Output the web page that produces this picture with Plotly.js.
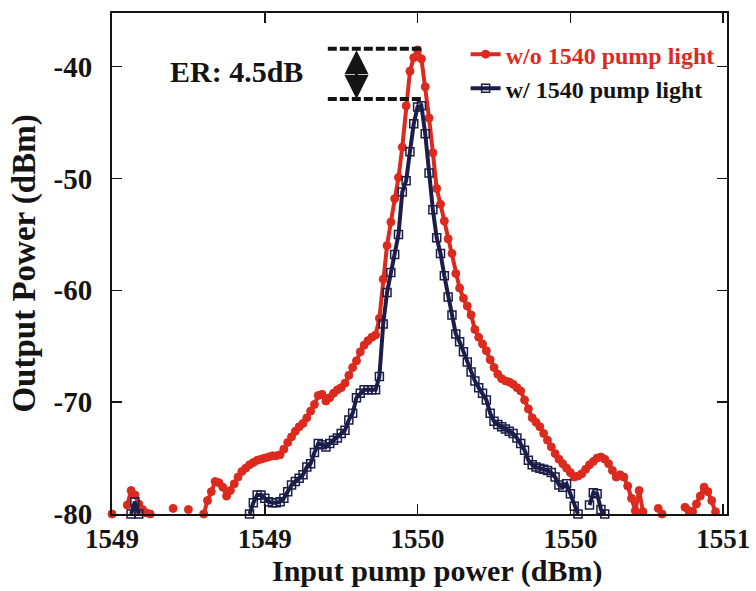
<!DOCTYPE html>
<html>
<head>
<meta charset="utf-8">
<script src="https://cdn.plot.ly/plotly-3.0.1.min.js"></script>
<style>html,body{margin:0;padding:0;background:#fff;}#chart{width:756px;height:591px;}</style>
</head>
<body>
<div id="chart"></div>
<script>
// Wavelength grid (nm)
const wavelength = [
1549.00,1549.01,1549.02,1549.03,1549.04,1549.05,1549.06,1549.07,1549.08,1549.09,
1549.10,1549.11,1549.12,1549.13,1549.14,1549.15,1549.16,1549.17,1549.18,1549.19,
1549.20,1549.21,1549.22,1549.23,1549.24,1549.25,1549.26,1549.27,1549.28,1549.29,
1549.30,1549.31,1549.32,1549.33,1549.34,1549.35,1549.36,1549.37,1549.38,1549.39,
1549.40,1549.41,1549.42,1549.43,1549.44,1549.45,1549.46,1549.47,1549.48,1549.49,
1549.50,1549.51,1549.52,1549.53,1549.54,1549.55,1549.56,1549.57,1549.58,1549.59,
1549.60,1549.61,1549.62,1549.63,1549.64,1549.65,1549.66,1549.67,1549.68,1549.69,
1549.70,1549.71,1549.72,1549.73,1549.74,1549.75,1549.76,1549.77,1549.78,1549.79,
1549.80,1549.81,1549.82,1549.83,1549.84,1549.85,1549.86,1549.87,1549.88,1549.89,
1549.90,1549.91,1549.92,1549.93,1549.94,1549.95,1549.96,1549.97,1549.98,1549.99,
1550.00,1550.01,1550.02,1550.03,1550.04,1550.05,1550.06,1550.07,1550.08,1550.09,
1550.10,1550.11,1550.12,1550.13,1550.14,1550.15,1550.16,1550.17,1550.18,1550.19,
1550.20,1550.21,1550.22,1550.23,1550.24,1550.25,1550.26,1550.27,1550.28,1550.29,
1550.30,1550.31,1550.32,1550.33,1550.34,1550.35,1550.36,1550.37,1550.38,1550.39,
1550.40,1550.41,1550.42,1550.43,1550.44,1550.45,1550.46,1550.47,1550.48,1550.49,
1550.50,1550.51,1550.52,1550.53,1550.54,1550.55,1550.56,1550.57,1550.58,1550.59,
1550.60];

// Output power without 1540 pump light (dBm); null = below -80 dBm (off scale)
const powerNoPump = [
-80,null,null,null,-79.2,-77.9,-78.3,-79.1,-79.6,-79.9,
-80,null,null,null,null,null,-79.5,null,null,null,
-79.6,null,null,null,-80,-78.8,-78.0,-77.1,-77.2,-77.6,
-78.4,-77.9,-77.3,-76.7,-76.2,-75.9,-75.6,-75.4,-75.2,-75.1,
-75.0,-74.9,-74.8,-74.8,-74.7,-74.2,-73.6,-73.1,-72.6,-72.2,
-71.9,-71.4,-70.8,-70.2,-69.4,-69.3,-69.9,-69.6,-69.2,-68.9,
-68.7,-68.3,-67.6,-66.9,-66.3,-65.5,-64.9,-64.5,-64.2,-64.0,
-62.5,-59.0,-56.0,-53.9,-51.8,-49.9,-47.2,-43.5,-40.4,-39.2,
-38.5,-39.3,-41.8,-44.6,-47.7,-50.9,-52.3,-53.8,-55.4,-56.7,
-58.5,-59.8,-60.7,-61.4,-62.2,-63.5,-64.2,-64.8,-65.4,-66.2,
-66.9,-67.5,-67.9,-68.1,-68.2,-68.4,-68.7,-69.0,-69.8,-70.6,
-71.4,-71.8,-72.2,-72.8,-73.4,-74.0,-74.6,-75.1,-75.5,-75.9,
-76.3,-76.7,-76.6,-76.4,-76.0,-75.6,-75.3,-75.0,-74.9,-75.1,
-75.5,-76.1,-76.7,-76.5,-76.7,-77.5,-78.6,-79.7,-77.9,-79.8,
null,null,null,-79.5,-80,null,null,null,null,null,
-79.4,-79.7,-79.8,-79.1,-78.4,-77.6,-78.0,-78.8,-79.8,null,
null];

// Output power with 1540 pump light (dBm); null = below -80 dBm (off scale)
const powerWithPump = [
null,null,null,null,null,-80,-78.9,-80,null,null,
null,null,null,null,null,null,null,null,null,null,
null,null,null,null,null,null,null,null,null,null,
null,null,null,null,null,null,-80,-79.0,-78.3,-78.3,
-78.6,-78.9,-79.0,-79.0,-78.9,-78.6,-78.0,-77.4,-77.1,-76.8,
-76.5,-75.8,-75.5,-74.5,-73.7,-73.8,-74.0,-73.7,-73.4,-73.2,
-72.8,-72.5,-71.6,-71.0,-69.6,-69.2,-68.9,-68.9,-68.9,-68.9,
-67.7,-63.0,-60.2,-58.4,-56.8,-55.0,-51.2,-50.2,-47.6,-45.1,
-43.6,-43.5,-46.0,-49.5,-52.8,-55.3,-56.7,-58.7,-60.6,-62.2,
-63.9,-64.6,-65.5,-66.4,-67.3,-68.1,-68.7,-69.2,-69.8,-71.0,
-71.7,-72.0,-72.2,-72.4,-72.6,-72.8,-73.2,-73.7,-74.3,-75.2,
-75.6,-75.8,-75.9,-76.0,-76.1,-76.3,-76.7,-77.4,-77.6,-77.3,
-78.2,-79.3,-80,null,null,-79.2,-78.1,-78.2,-79.6,-80,
null,null,null,null,null,null,null,null,null,null,
null,null,null,null,null,null,null,null,null,null,
null,null,null,null,null,null,null,null,null,null,
null];

const seriesNames = ['w/o 1540 pump light', 'w/ 1540 pump light'];
const xTickVals = [1549.0, 1549.4, 1549.8, 1550.2, 1550.6];
const xTickText = ['1549', '1549', '1550', '1550', '1551'];
const yTickVals = [-80, -70, -60, -50, -40];
const yTickText = ['-80', '-70', '-60', '-50', '-40'];
const xTitle = 'Input pump power (dBm)';
const yTitle = 'Output Power (dBm)';
const peakNoPump = -38.4;
const peakWithPump = -42.9;
const erText = 'ER: 4.5dB';

const RED = '#dc2a1f';
const NAVY = '#1c1d48';
const INK = '#141414';
const FONT = '"Liberation Serif", "Times New Roman", serif';

const traces = [
  {
    x: wavelength, y: powerNoPump, name: '<span style="color:' + RED + '">' + seriesNames[0] + '</span>',
    type: 'scatter', mode: 'lines+markers', cliponaxis: false, connectgaps: false,
    line: {color: RED, width: 4},
    marker: {symbol: 'circle', size: 8, color: RED, line: {color: RED, width: 1}}
  },
  {
    x: wavelength, y: powerWithPump, name: seriesNames[1],
    type: 'scatter', mode: 'lines+markers', cliponaxis: false, connectgaps: false,
    line: {color: NAVY, width: 4},
    marker: {symbol: 'square-open', size: 8, color: NAVY, line: {color: NAVY, width: 1.5}}
  }
];

const layout = {
  width: 756, height: 591,
  margin: {l: 112, r: 29, t: 13, b: 77},
  paper_bgcolor: '#ffffff', plot_bgcolor: '#ffffff',
  font: {family: FONT, size: 28, color: INK, weight: 'bold'},
  showlegend: true,
  legend: {
    x: 0.575, y: 0.962, xanchor: 'left', yanchor: 'top',
    bgcolor: 'rgba(0,0,0,0)', borderwidth: 0,
    font: {family: FONT, size: 24, color: INK, weight: 'bold'},
    itemwidth: 30, tracegroupgap: 0
  },
  xaxis: {
    range: [1549.0, 1550.61],
    tickmode: 'array', tickvals: xTickVals, ticktext: xTickText,
    ticks: 'inside', ticklen: 10, tickwidth: 1.5, tickcolor: INK,
    showline: true, linecolor: INK, linewidth: 2, mirror: 'ticks',
    showgrid: false, zeroline: false,
    ticklabelstandoff: 0,
    tickfont: {family: FONT, size: 27, color: INK, weight: 'bold'}
  },
  yaxis: {
    range: [-80, -35.2],
    tickmode: 'array', tickvals: yTickVals, ticktext: yTickText,
    ticks: 'inside', ticklen: 10, tickwidth: 1.5, tickcolor: INK,
    showline: true, linecolor: INK, linewidth: 2, mirror: 'ticks',
    showgrid: false, zeroline: false,
    ticklabelstandoff: 12,
    tickfont: {family: FONT, size: 29, color: INK, weight: 'bold'}
  },
  shapes: [
    {type: 'line', xref: 'x', yref: 'y', x0: 1549.565, x1: 1549.81, y0: peakNoPump, y1: peakNoPump,
     line: {color: INK, width: 4, dash: '9px,3px'}},
    {type: 'line', xref: 'x', yref: 'y', x0: 1549.565, x1: 1549.81, y0: peakWithPump, y1: peakWithPump,
     line: {color: INK, width: 4, dash: '9px,3px'}}
  ],
  annotations: [
    {x: 1549.64, y: peakWithPump, xref: 'x', yref: 'y', ax: 1549.64, ay: peakNoPump, axref: 'x', ayref: 'y',
     text: '', showarrow: true, arrowhead: 2, arrowside: 'end+start', arrowsize: 1.6, arrowwidth: 3, arrowcolor: INK},
    {x: 1549.327, y: -40.4, xref: 'x', yref: 'y', text: erText, showarrow: false,
     font: {family: FONT, size: 30, color: INK, weight: 'bold'}},
    {x: 0.528, y: -0.114, xref: 'paper', yref: 'paper', xanchor: 'center', yanchor: 'middle', borderpad: 0,
     text: xTitle, showarrow: false, font: {family: FONT, size: 30, color: INK, weight: 'bold'}},
    {x: -0.143, y: 0.5, xref: 'paper', yref: 'paper', xanchor: 'center', yanchor: 'middle',
     text: yTitle, textangle: -90, showarrow: false, font: {family: FONT, size: 33, color: INK, weight: 'bold'}}
  ]
};

Plotly.newPlot('chart', traces, layout, {displayModeBar: false, staticPlot: true});
</script>
</body>
</html>
